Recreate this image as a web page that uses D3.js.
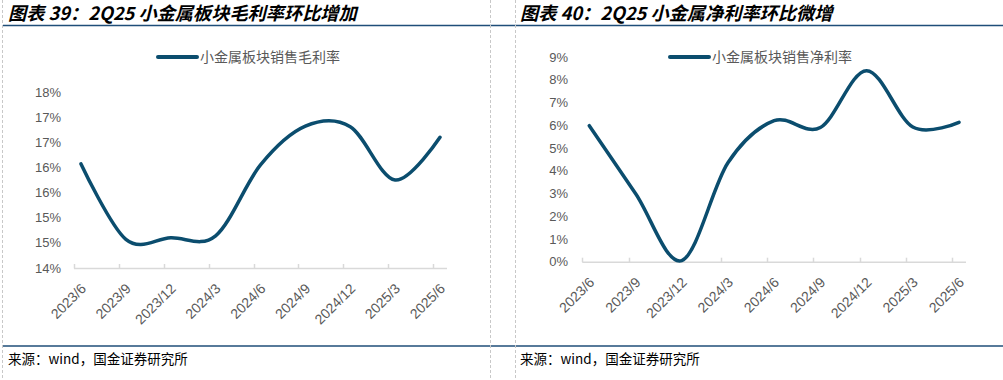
<!DOCTYPE html>
<html><head><meta charset="utf-8">
<script src="https://cdn.jsdelivr.net/npm/d3@7"></script>
<style>
html,body{margin:0;padding:0;background:#fff;}
svg{display:block;}
</style></head>
<body>
<svg id="c" width="1003" height="380"></svg>
<script>
const categories = ["2023/6","2023/9","2023/12","2024/3","2024/6","2024/9","2024/12","2025/3","2025/6"];
const grossMargin = [16.07,14.57,14.60,14.64,16.05,16.82,16.81,15.75,16.60];
const netMargin = [5.98,3.0,0.05,4.35,6.2,5.9,8.4,5.92,6.13];
const grossTicks = [14,14.5,15,15.5,16,16.5,17,17.5];
const netTicks = [0,1,2,3,4,5,6,7,8,9];
const titles = ["图表 39：2Q25 小金属板块毛利率环比增加","图表 40：2Q25 小金属净利率环比微增"];
const legends = ["小金属板块销售毛利率","小金属板块销售净利率"];
const source = "来源：wind，国金证券研究所";

const svg = d3.select("#c");
const LINE = "#0b4d6e";
const GRAY = "#595959";

// frame lines
svg.append("line").attr("x1",3).attr("x2",1003).attr("y1",25.5).attr("y2",25.5).attr("stroke","#1f4e79").attr("stroke-width",1.5);
svg.append("line").attr("x1",3).attr("x2",1003).attr("y1",346).attr("y2",346).attr("stroke","#1f4e79").attr("stroke-width",1.5);
[2.5,490.5,515.5].forEach(x=>{
  svg.append("line").attr("x1",x).attr("x2",x).attr("y1",0).attr("y2",380)
    .attr("stroke","#c8c8c8").attr("stroke-width",1).attr("stroke-dasharray","3,2");
});

function panel(cfg){
  const g = svg.append("g");
  g.append("text").attr("x",cfg.titleX).attr("y",20)
    .attr("font-family","'Noto Sans CJK SC'").attr("font-weight","bold").attr("font-style","italic")
    .attr("font-size",18.2).attr("fill","#000").text(cfg.title);
  g.append("text").attr("x",cfg.titleX).attr("y",364)
    .attr("font-family","'Noto Sans CJK SC'").attr("font-size",13.5)
    .attr("fill","#000").text(source);

  const x = d3.scalePoint().domain(categories).range(cfg.xr);
  const y = d3.scaleLinear().domain(cfg.yd).range(cfg.yr);
  const off = 7;
  const ay = cfg.yr[0];

  // axis line
  g.append("line").attr("x1",cfg.xr[0]-off).attr("x2",cfg.xr[1]+off).attr("y1",ay+0.5).attr("y2",ay+0.5)
    .attr("stroke","#d9d9d9").attr("stroke-width",1.5);
  categories.forEach(c=>{
    const tx = Math.round(x(c)-off)+0.5;
    g.append("line").attr("x1",tx).attr("x2",tx).attr("y1",ay-4).attr("y2",ay+0.5)
      .attr("stroke","#d9d9d9").attr("stroke-width",1.5);
    g.append("text").attr("transform",`translate(${x(c)+2.5},${ay+18}) rotate(-45)`)
      .attr("text-anchor","end").attr("dy","0.35em")
      .attr("font-family","'Liberation Sans',Arial").attr("font-size",14).attr("fill",GRAY).text(c);
  });
  cfg.ticks.forEach(t=>{
    g.append("text").attr("x",cfg.yLabelX).attr("y",y(t)).attr("dy","0.35em")
      .attr("text-anchor","end").attr("font-family","'Liberation Sans',Arial")
      .attr("font-size",13).attr("fill",GRAY).text(Math.round(t)+"%");
  });

  const line = d3.line().x((d,i)=>x(categories[i])).y(d=>y(d)).curve(d3.curveCatmullRom.alpha(0));
  g.append("path").datum(cfg.values).attr("d",line).attr("fill","none")
    .attr("stroke",LINE).attr("stroke-width",3.5).attr("stroke-linecap","round");

  // legend
  g.append("line").attr("x1",cfg.legX).attr("x2",cfg.legX+39).attr("y1",57).attr("y2",57)
    .attr("stroke",LINE).attr("stroke-width",4).attr("stroke-linecap","round");
  g.append("text").attr("x",cfg.legX+42).attr("y",57).attr("dy","0.35em")
    .attr("font-family","'Noto Sans CJK SC'").attr("font-size",14).attr("fill",GRAY).text(cfg.legend);
}

panel({title:titles[0],titleX:8,xr:[81,440],yd:[14,17.5],yr:[268,92],ticks:grossTicks,
  values:grossMargin,yLabelX:61,legX:158,legend:legends[0]});
panel({title:titles[1],titleX:520,xr:[589.3,959],yd:[0,9],yr:[261.7,57],ticks:netTicks,
  values:netMargin,yLabelX:568,legX:670,legend:legends[1]});
</script>
</body></html>
